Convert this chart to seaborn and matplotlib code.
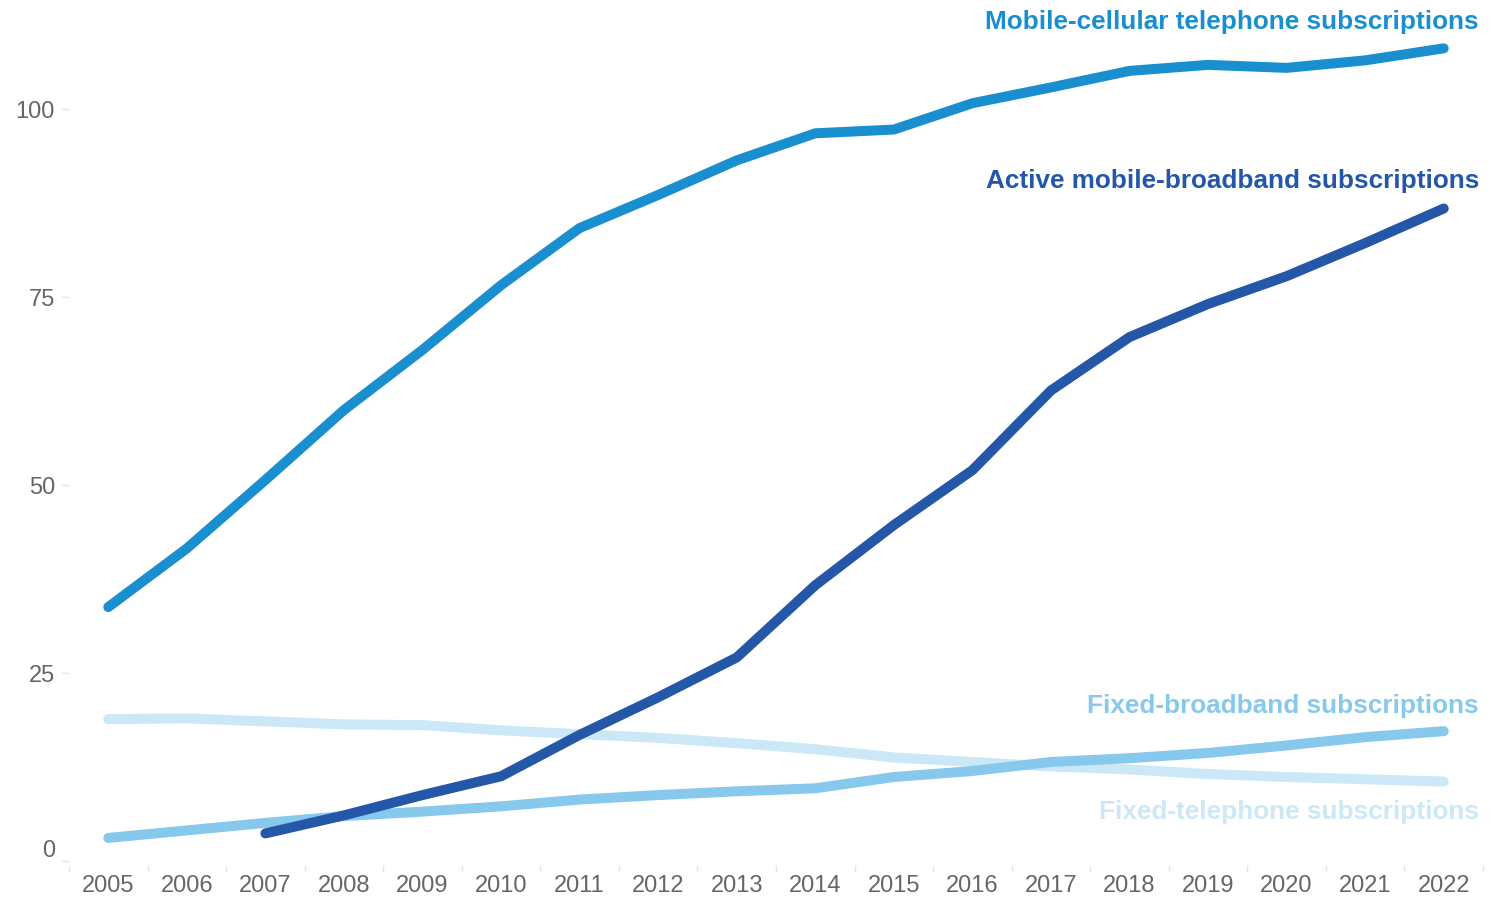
import numpy as np
import pandas as pd
import matplotlib
matplotlib.use("Agg")
import matplotlib.pyplot as plt
import matplotlib.transforms as mtransforms
import seaborn as sns

years = list(range(2005, 2023))

mobile_cellular = [33.8, 41.6, 50.7, 60.0, 68.0, 76.6, 84.2, 88.6, 93.2, 96.8,
                   97.3, 100.8, 102.9, 105.1, 105.9, 105.5, 106.5, 108.1]
active_mobile_broadband = [np.nan, np.nan, 3.7, 6.1, 8.8, 11.3, 16.8, 21.8, 27.1, 36.7,
                           44.7, 52.0, 62.6, 69.7, 74.1, 77.8, 82.2, 86.8]
fixed_broadband = [3.1, 4.1, 5.1, 6.0, 6.6, 7.3, 8.2, 8.8, 9.3, 9.7,
                   11.2, 12.0, 13.2, 13.7, 14.4, 15.4, 16.5, 17.3]
fixed_telephone = [18.9, 19.0, 18.6, 18.2, 18.1, 17.4, 16.9, 16.4, 15.7, 14.9,
                   13.8, 13.2, 12.6, 12.2, 11.6, 11.2, 10.9, 10.6]

series_names = [
    "Fixed-telephone subscriptions",
    "Fixed-broadband subscriptions",
    "Mobile-cellular telephone subscriptions",
    "Active mobile-broadband subscriptions",
]
series_values = [fixed_telephone, fixed_broadband, mobile_cellular, active_mobile_broadband]
colors = ["#cbe8f6", "#86c9ec", "#1a8fd0", "#2457a7"]
label_y = [6.6, 20.7, 111.6, 90.5]

y_ticks = [0, 25, 50, 75, 100]

frames = [pd.DataFrame({"year": years, "value": v, "series": n})
          for n, v in zip(series_names, series_values)]
df = pd.concat(frames, ignore_index=True).dropna()

sns.set_theme(style="white")
plt.rcParams["font.family"] = ["Liberation Sans", "DejaVu Sans"]

fig = plt.figure(figsize=(15.06, 8.97), dpi=100)
ax = fig.add_axes([69 / 1506, 1 - 865 / 897, (1483 - 69) / 1506, (865 - 19) / 897])

sns.lineplot(data=df, x="year", y="value", hue="series", hue_order=series_names,
             palette=dict(zip(series_names, colors)), linewidth=7.2,
             legend=False, ax=ax, solid_capstyle="round")

for name, col, ly in zip(series_names, colors, label_y):
    ax.text(2022.45, ly, name, ha="right", va="center", color=col,
            fontsize=18.8, fontweight="bold")

ax.set_xlim(2004.5, 2022.5)
ax.set_ylim(-0.5, 112)
ax.set_xlabel("")
ax.set_ylabel("")

ax.set_xticks(years)
ax.set_xticklabels([str(y) for y in years])
ax.set_xticks([y + 0.5 for y in [2004] + years], minor=True)
ax.set_yticks(y_ticks)
ax.set_yticklabels([str(t) for t in y_ticks])

ax.tick_params(axis="x", which="major", length=0, pad=7.5, labelsize=17, labelcolor="#666666")
ax.tick_params(axis="x", which="minor", bottom=True, length=5, width=1, color="#e6e6e6")
ax.tick_params(axis="y", which="major", left=True, length=6, width=1, color="#e6e6e6",
               pad=4, labelsize=17, labelcolor="#666666")

# lift the zero label clear of the year labels
zero_label = ax.get_yticklabels()[0]
zero_label.set_transform(zero_label.get_transform() +
                         mtransforms.ScaledTranslation(0, 13 / 100, fig.dpi_scale_trans))

for s in ax.spines.values():
    s.set_visible(False)

fig.savefig("out.png", dpi=100)
